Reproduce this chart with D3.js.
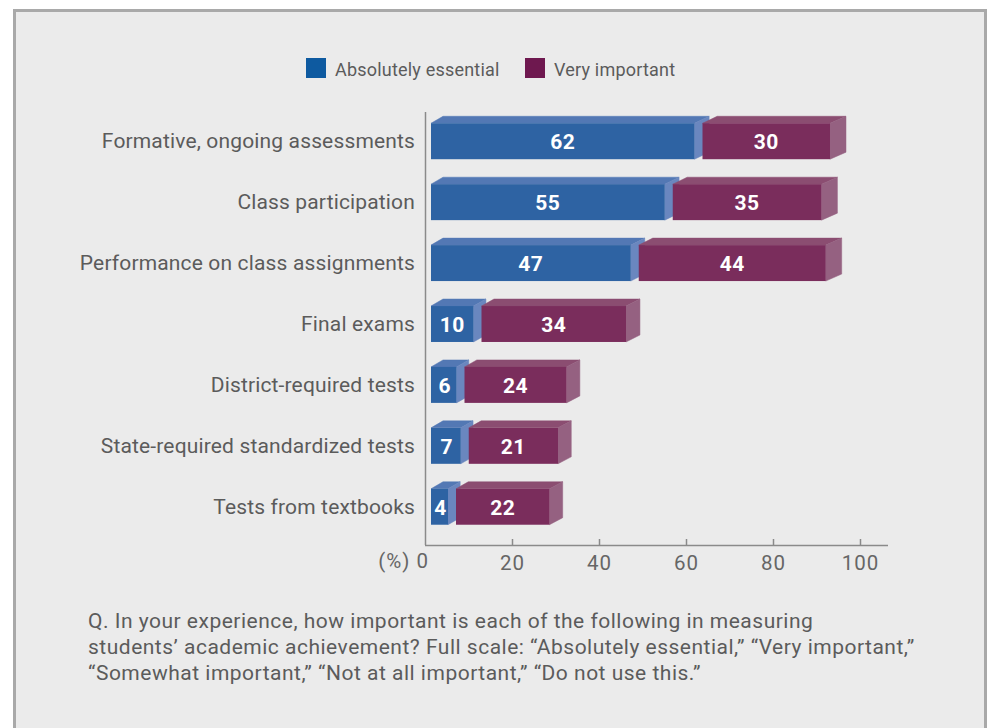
<!DOCTYPE html>
<html>
<head>
<meta charset="utf-8">
<script src="https://cdn.jsdelivr.net/npm/d3@7"></script>
<style>
  html, body { margin: 0; padding: 0; background: #ffffff; }
  svg { display: block; }
</style>
</head>
<body>
<svg id="chart" width="991" height="728"></svg>
<script>
// Survey results: share of teachers rating each measure (%)
const categories = [
  "Formative, ongoing assessments",
  "Class participation",
  "Performance on class assignments",
  "Final exams",
  "District-required tests",
  "State-required standardized tests",
  "Tests from textbooks"
];
const absolutelyEssential = [62, 55, 47, 10, 6, 7, 4];
const veryImportant = [30, 35, 44, 34, 24, 21, 22];
const seriesNames = ["Absolutely essential", "Very important"];
const axisTicks = [0, 20, 40, 60, 80, 100];
const questionLines = [
  "Q. In your experience, how important is each of the following in measuring",
  "students\u2019 academic achievement? Full scale: \u201cAbsolutely essential,\u201d \u201cVery important,\u201d",
  "\u201cSomewhat important,\u201d \u201cNot at all important,\u201d \u201cDo not use this.\u201d"
];

const FONT = "Roboto, 'Liberation Sans', Arial, sans-serif";
const TEXT = "#5b5b5b";

const palette = [
  { legend: "#0e5aa0", front: "#2e63a3", top: "#5378b4", side: "#6a87bf" },
  { legend: "#6e184f", front: "#7a2d5c", top: "#8b4d71", side: "#956181" }
];

const svg = d3.select("#chart");

// Panel
svg.append("rect")
  .attr("x", 14.5).attr("y", 10.5)
  .attr("width", 971).attr("height", 740)
  .attr("fill", "#ebebeb")
  .attr("stroke", "#a9a9a9").attr("stroke-width", 3);

// Scales
const xAxisScale = d3.scaleLinear().domain([0, 100]).range([425, 860]);
// bars are drawn slightly inset from the axis, as in a 3-D bar plot
const xBar = d3.scaleLinear().domain([0, 100]).range([431, 856]);
const y = d3.scaleBand().domain(categories).range([105, 543])
  .paddingInner(0.41).paddingOuter(0.3);

const segGap = 8;     // visible slice of the previous segment's side face
const depthY = 7;
const depthX = x => 12 + (x - 431) * 0.01;  // mild perspective

// Legend
const legend = svg.append("g");
const legendItems = [
  { x: 306, text: seriesNames[0], color: palette[0].legend },
  { x: 525, text: seriesNames[1], color: palette[1].legend }
];
legendItems.forEach(d => {
  legend.append("rect").attr("x", d.x).attr("y", 58).attr("width", 20).attr("height", 20)
    .attr("fill", d.color);
  legend.append("text").attr("x", d.x + 29).attr("y", 76)
    .attr("font-family", FONT).attr("font-size", 18).attr("letter-spacing", 0.2)
    .attr("fill", TEXT)
    .text(d.text);
});

// Vertical axis line
svg.append("line")
  .attr("x1", 425.5).attr("x2", 425.5)
  .attr("y1", 112).attr("y2", 545)
  .attr("stroke", "#8a8a8a").attr("stroke-width", 1.5);

// Category labels
svg.append("g").selectAll("text").data(categories).join("text")
  .attr("x", 415)
  .attr("y", d => y(d) + y.bandwidth() / 2 + 7)
  .attr("text-anchor", "end")
  .attr("font-family", FONT).attr("font-size", 21).attr("letter-spacing", 0.15)
  .attr("fill", TEXT)
  .text(d => d);

// Bars
const rows = categories.map((c, i) => ({
  cat: c,
  segs: [absolutelyEssential[i], veryImportant[i]]
}));

const barsG = svg.append("g");
rows.forEach(row => {
  const yTop = y(row.cat);
  const yBot = yTop + y.bandwidth();
  let cum = 0;
  row.segs.forEach((v, s) => {
    const x0 = xBar(cum) + s * segGap;
    const x1 = xBar(cum + v) + s * segGap;
    cum += v;
    const c = palette[s];
    const dx0 = depthX(x0), dx1 = depthX(x1);
    const g = barsG.append("g");
    // top face
    g.append("polygon")
      .attr("points", [[x0, yTop], [x1, yTop], [x1 + dx1, yTop - depthY], [x0 + dx0, yTop - depthY]].join(" "))
      .attr("fill", c.top).attr("stroke", c.top).attr("stroke-width", 0.5);
    // side face
    g.append("polygon")
      .attr("points", [[x1, yTop], [x1 + dx1, yTop - depthY], [x1 + dx1, yBot - depthY], [x1, yBot]].join(" "))
      .attr("fill", c.side).attr("stroke", c.side).attr("stroke-width", 0.5);
    // front face
    g.append("rect")
      .attr("x", x0).attr("y", yTop)
      .attr("width", x1 - x0).attr("height", y.bandwidth())
      .attr("fill", c.front);
    // value label
    g.append("text")
      .attr("x", (x0 + x1) / 2 + (v < 9 ? 1 : 0))
      .attr("y", (yTop + yBot) / 2 + 8)
      .attr("text-anchor", "middle")
      .attr("font-family", FONT).attr("font-weight", "bold").attr("font-size", 21)
      .attr("letter-spacing", 0.5)
      .attr("fill", "#ffffff")
      .text(v);
  });
});

// Horizontal axis
const axis = d3.axisBottom(xAxisScale)
  .tickValues(axisTicks.filter(t => t > 0))
  .tickSize(-6)
  .tickPadding(10)
  .tickFormat(d => d);
const axisG = svg.append("g").attr("transform", "translate(0,545)").call(axis);
axisG.select(".domain").remove();
axisG.selectAll(".tick line").attr("stroke", "#8a8a8a").attr("stroke-width", 1.5);
axisG.selectAll(".tick text")
  .attr("font-family", FONT).attr("font-size", 20.5).attr("letter-spacing", 1)
  .attr("fill", "#666666");
axisG.append("text")
  .attr("x", xAxisScale(0) + 4).attr("y", 23)
  .attr("text-anchor", "end")
  .attr("font-family", FONT).attr("font-size", 20.5).attr("letter-spacing", 1)
  .attr("fill", "#666666")
  .text("(%) " + axisTicks[0]);
svg.append("line")
  .attr("x1", 425).attr("x2", 888)
  .attr("y1", 545.5).attr("y2", 545.5)
  .attr("stroke", "#8a8a8a").attr("stroke-width", 1.5);

// Question footnote
svg.append("g").selectAll("text").data(questionLines).join("text")
  .attr("x", 88)
  .attr("y", (d, i) => 628 + i * 26)
  .attr("font-family", FONT).attr("font-size", 21).attr("letter-spacing", 0.5)
  .attr("fill", TEXT)
  .text(d => d);
</script>
</body>
</html>
